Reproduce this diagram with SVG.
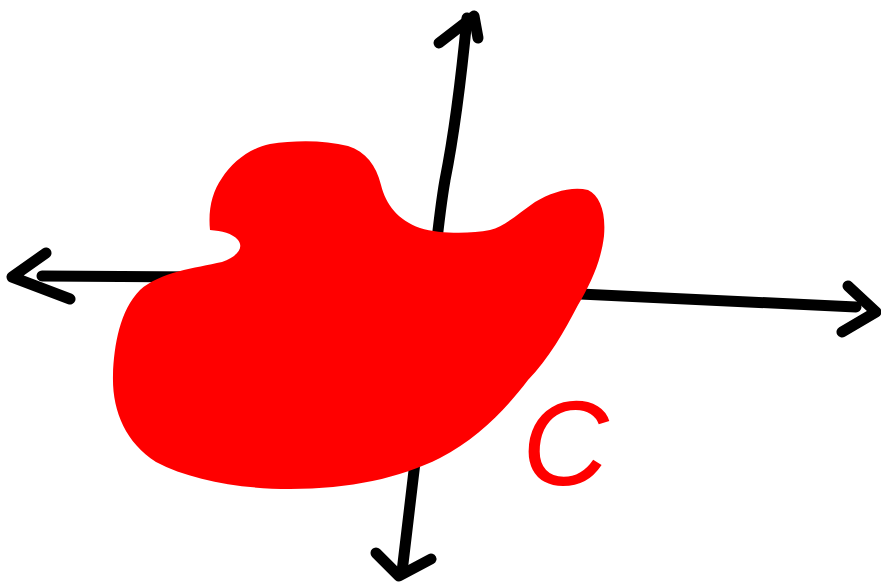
<svg xmlns="http://www.w3.org/2000/svg" width="881" height="584" viewBox="0 0 881 584">
<style>
.ax{fill:none;stroke:#000;stroke-width:11;stroke-linecap:round;stroke-linejoin:round}
.blob{fill:#ff0000;stroke:none}
.lbl{font-family:"Liberation Sans",Arial,sans-serif;font-size:120px;font-style:italic;fill:#ff0000}
</style>
<rect width="881" height="584" fill="#fff"/>
<g id="axes">
<path class="ax" d="M42,276 L200,277 L580,294 L856,307"/>
<path class="ax" d="M46,253 L12,277 L70,299"/>
<path class="ax" d="M848,286 L876,312 L842,332"/>
<path class="ax" d="M467,18 C462,70 455,130 445,180 C438,220 430,300 420,420 L402,572"/>
<path class="ax" d="M439,43 L474,16 L478,38"/>
<path class="ax" d="M376,553 L399,576 L431,559"/>
</g>
<g id="shape">
<path class="blob" d="M210,230 C208,210 212,192 222,178 C232,162 250,148 270,144 C295,140 325,140 348,146 C366,152 376,165 381,185 C386,205 398,220 420,228 C440,234 470,234 490,230 C505,226 518,214 535,202 C552,192 572,186 588,190 C600,196 606,212 604,236 C601,262 590,285 578,305 C565,330 548,360 528,380 C505,410 478,438 440,458 C400,478 350,489 290,489 C240,489 190,480 156,462 C125,442 112,410 113,375 C114,345 120,310 140,290 C160,272 195,268 222,262 C238,256 244,248 238,240 C232,233 222,231 210,230 Z"/>
</g>
<g id="label">
<text class="lbl" x="522" y="485">C</text>
</g>
</svg>
